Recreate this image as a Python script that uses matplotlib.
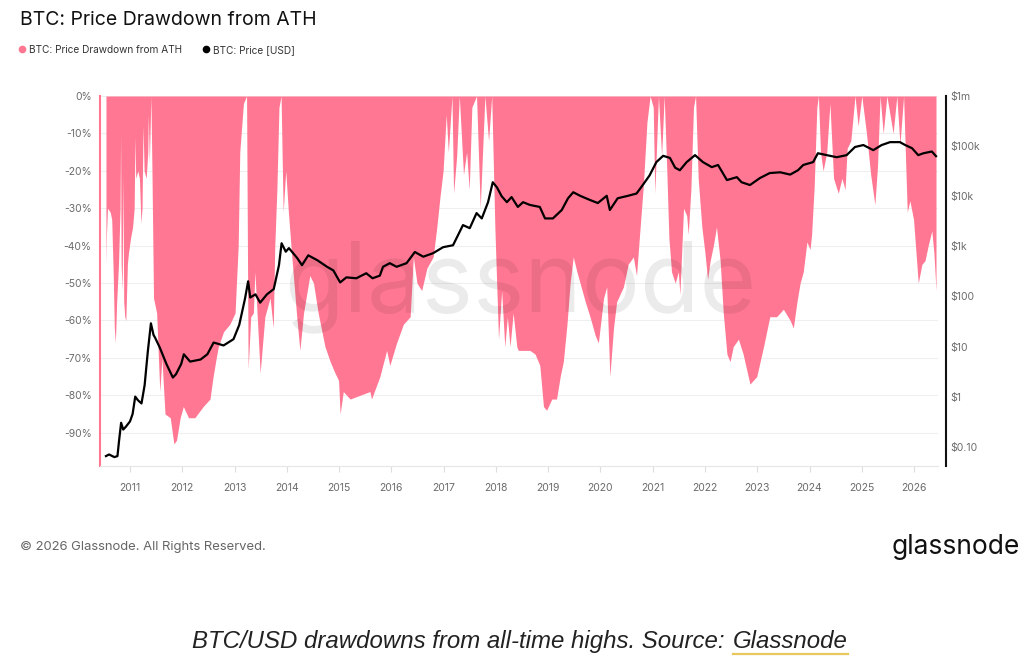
import matplotlib.pyplot as plt
from matplotlib.lines import Line2D
from matplotlib.ticker import FixedLocator, NullLocator

plt.rcParams['font.family'] = ['Inter', 'DejaVu Sans']

PINK = '#ff7792'
TICK_GREY = '#6b6b6b'

# drawdown from ATH (%) (decimal year, value)
dd_year = [
    2010.54, 2010.55, 2010.57, 2010.62, 2010.65, 2010.68, 2010.70, 2010.72, 2010.745, 2010.78,
    2010.81, 2010.82, 2010.83, 2010.85, 2010.865, 2010.88, 2010.90, 2010.92, 2010.95, 2010.97,
    2011.01, 2011.05, 2011.08, 2011.095, 2011.11, 2011.15, 2011.18, 2011.21, 2011.23, 2011.25,
    2011.27, 2011.31, 2011.34, 2011.35, 2011.37, 2011.40, 2011.42, 2011.45, 2011.51, 2011.57,
    2011.61, 2011.67, 2011.77, 2011.84, 2011.89, 2011.96, 2012.02, 2012.12, 2012.24, 2012.40,
    2012.53, 2012.59, 2012.65, 2012.69, 2012.79, 2012.91, 2013.01, 2013.07, 2013.10, 2013.17,
    2013.23, 2013.26, 2013.31, 2013.36, 2013.39, 2013.49, 2013.58, 2013.68, 2013.74, 2013.77,
    2013.81, 2013.85, 2013.89, 2013.93, 2013.98, 2014.03, 2014.09, 2014.19, 2014.25, 2014.32,
    2014.44, 2014.51, 2014.60, 2014.73, 2014.83, 2014.92, 2014.99, 2015.02, 2015.08, 2015.21,
    2015.40, 2015.59, 2015.62, 2015.78, 2015.91, 2015.97, 2016.10, 2016.23, 2016.36, 2016.42,
    2016.49, 2016.58, 2016.68, 2016.80, 2016.87, 2016.93, 2016.99, 2017.05, 2017.09, 2017.16,
    2017.19, 2017.25, 2017.30, 2017.38, 2017.44, 2017.49, 2017.54, 2017.63, 2017.70, 2017.79,
    2017.86, 2017.92, 2017.98, 2018.05, 2018.11, 2018.17, 2018.22, 2018.27, 2018.33, 2018.40,
    2018.43, 2018.52, 2018.65, 2018.75, 2018.84, 2018.91, 2018.97, 2019.07, 2019.16, 2019.23,
    2019.29, 2019.36, 2019.42, 2019.48, 2019.55, 2019.61, 2019.71, 2019.80, 2019.90, 2019.96,
    2020.06, 2020.12, 2020.18, 2020.25, 2020.31, 2020.44, 2020.53, 2020.63, 2020.69, 2020.76,
    2020.82, 2020.89, 2020.95, 2021.01, 2021.04, 2021.11, 2021.14, 2021.17, 2021.22, 2021.27,
    2021.31, 2021.36, 2021.43, 2021.49, 2021.52, 2021.59, 2021.65, 2021.68, 2021.73, 2021.78,
    2021.82, 2021.87, 2021.94, 2022.00, 2022.05, 2022.10, 2022.16, 2022.22, 2022.29, 2022.35,
    2022.42, 2022.48, 2022.54, 2022.64, 2022.73, 2022.86, 2022.99, 2023.12, 2023.24, 2023.37,
    2023.50, 2023.63, 2023.69, 2023.76, 2023.82, 2023.88, 2023.95, 2024.01, 2024.04, 2024.09,
    2024.14, 2024.17, 2024.21, 2024.26, 2024.33, 2024.39, 2024.46, 2024.55, 2024.62, 2024.68,
    2024.72, 2024.79, 2024.87, 2024.93, 2025.00, 2025.09, 2025.17, 2025.25, 2025.30, 2025.35,
    2025.41, 2025.48, 2025.60, 2025.67, 2025.73, 2025.80, 2025.84, 2025.87, 2025.92, 2025.99,
    2026.08, 2026.15, 2026.21, 2026.27, 2026.34, 2026.38, 2026.42,
]
dd_pct = [
    -45, -37, -30, -31, -33, -48, -62, -66, -55, -45,
    -30, -10, -45, -52, -21, -55, -59, -60, -45, -42,
    -38, -35, -30, -11, -22, -20, -22, -34, -30, -8,
    -20, -22, -15, -5, -18, 0, -20, -54, -58, -79,
    -70, -85, -86, -93, -92, -86, -83, -86, -86, -83,
    -81, -75, -70, -67, -63, -61, -58, -40, -15, -2,
    0, -73, -59, -58, -47, -74, -59, -54, -62, -40,
    -25, -3, 0, -31, -20, -31, -42, -59, -68, -58,
    -48, -50, -58, -67, -71, -74, -76, -85, -79, -81,
    -80, -79, -81, -75, -68, -72, -66, -61, -59, -43,
    -50, -52, -46, -43, -35, -27, -20, -5, -15, 0,
    -26, -16, 0, -21, -15, -25, -3, 0, -30, 0,
    -12, 0, -35, -65, -52, -67, -59, -67, -58, -67,
    -68, -68, -68, -69, -72, -83, -84, -81, -81, -75,
    -71, -61, -50, -43, -47, -50, -55, -59, -64, -66,
    -54, -51, -75, -62, -55, -51, -45, -43, -48, -35,
    -24, -7, 0, -3, -26, 0, -8, -16, 0, -20,
    -38, -47, -50, -47, -53, -30, -32, -37, -25, -3,
    0, -22, -35, -42, -49, -44, -40, -35, -44, -58,
    -69, -71, -67, -65, -69, -77, -75, -67, -59, -59,
    -57, -60, -62, -55, -50, -47, -39, -41, -37, -24,
    -3, 0, -15, -20, -15, -2, -22, -26, -22, -25,
    -14, -12, 0, -8, 0, -10, -21, -29, -19, 0,
    -10, 0, -10, 0, -13, 0, -18, -31, -28, -33,
    -50, -45, -44, -40, -36, -42, -52,
]

# BTC price (USD)
px_year = [
    2010.54, 2010.60, 2010.70, 2010.76, 2010.79, 2010.83, 2010.87, 2010.92, 2011.00, 2011.05,
    2011.10, 2011.15, 2011.22, 2011.28, 2011.34, 2011.40, 2011.45, 2011.48, 2011.57, 2011.70,
    2011.82, 2011.88, 2011.98, 2012.03, 2012.15, 2012.35, 2012.48, 2012.60, 2012.79, 2012.98,
    2013.09, 2013.20, 2013.26, 2013.30, 2013.40, 2013.49, 2013.62, 2013.75, 2013.85, 2013.90,
    2013.98, 2014.04, 2014.20, 2014.29, 2014.41, 2014.58, 2014.77, 2014.89, 2015.02, 2015.14,
    2015.33, 2015.52, 2015.64, 2015.78, 2015.84, 2015.97, 2016.10, 2016.29, 2016.45, 2016.61,
    2016.80, 2016.99, 2017.18, 2017.37, 2017.50, 2017.63, 2017.73, 2017.85, 2017.94, 2018.02,
    2018.11, 2018.21, 2018.30, 2018.42, 2018.52, 2018.65, 2018.84, 2018.94, 2019.09, 2019.26,
    2019.38, 2019.48, 2019.61, 2019.80, 2019.95, 2020.12, 2020.18, 2020.33, 2020.53, 2020.69,
    2020.81, 2020.94, 2021.07, 2021.20, 2021.33, 2021.43, 2021.52, 2021.65, 2021.81, 2021.96,
    2022.13, 2022.25, 2022.42, 2022.61, 2022.70, 2022.86, 2023.05, 2023.24, 2023.44, 2023.63,
    2023.78, 2023.88, 2024.07, 2024.16, 2024.33, 2024.52, 2024.71, 2024.87, 2025.03, 2025.22,
    2025.38, 2025.54, 2025.73, 2025.83, 2025.96, 2026.08, 2026.18, 2026.34, 2026.42,
]
px_usd = [
    0.065, 0.07, 0.062, 0.065, 0.13, 0.30, 0.22, 0.25, 0.32, 0.45,
    1.0, 0.85, 0.73, 1.7, 7.8, 29, 17, 15, 9.5, 4.4,
    2.4, 2.8, 4.5, 7, 5, 5.5, 7, 12, 10.5, 14,
    27, 90, 200, 95, 110, 75, 110, 140, 420, 1150,
    780, 920, 580, 420, 660, 530, 390, 330, 190, 240,
    230, 290, 230, 260, 390, 460, 390, 460, 770, 620,
    730, 960, 1050, 2650, 2300, 4600, 3600, 7600, 19000, 15000,
    10000, 7600, 9600, 6100, 7600, 6700, 6100, 3600, 3600, 5300,
    9100, 12000, 10200, 8400, 7300, 10200, 5300, 9100, 10200, 11300,
    16700, 26000, 48000, 64000, 58000, 37000, 33000, 48000, 66000, 48000,
    38000, 42000, 21000, 24000, 19000, 16700, 23000, 29000, 30000, 27000,
    33000, 42000, 48000, 72000, 66000, 60000, 66000, 96000, 105000, 83000,
    105000, 120000, 120000, 105000, 91000, 66000, 72000, 78000, 63000,
]

year_ticks = list(range(2011, 2027))
pct_ticks = [0, -10, -20, -30, -40, -50, -60, -70, -80, -90]
usd_ticks = [0.1, 1, 10, 100, 1e3, 1e4, 1e5, 1e6]
usd_labels = ['\\$0.10', '\\$1', '\\$10', '\\$100', '\\$1k', '\\$10k', '\\$100k', '\\$1m']

W, H = 1036, 665
fig = plt.figure(figsize=(W / 100, H / 100), dpi=100)
fig.patch.set_facecolor('white')
ax = fig.add_axes([100 / W, 1 - 466 / H, 838 / W, 370 / H])

ax.set_axisbelow(True)
ax.fill_between(dd_year, dd_pct, 0, color=PINK, lw=0, zorder=2)
ax.set_xlim(2010.426, 2026.458)
ax.set_ylim(-98.9, 0)
ax.set_yticks(pct_ticks)
ax.set_yticklabels([f'{v}%' for v in pct_ticks])
ax.grid(axis='y', color='#efefef', lw=0.8)
ax.set_xticks(year_ticks)
ax.tick_params(axis='x', length=4, color='#dddddd', labelsize=7.5, labelcolor=TICK_GREY, pad=8)
ax.tick_params(axis='y', length=0, labelsize=7.5, labelcolor=TICK_GREY, pad=6)
for s in ['top', 'right']:
    ax.spines[s].set_visible(False)
ax.spines['left'].set_color(PINK)
ax.spines['left'].set_linewidth(1.5)
ax.spines['bottom'].set_color('#e6e6e6')
ax.spines['bottom'].set_linewidth(0.8)

ax.text(0.501, 0.484, 'glassnode', transform=ax.transAxes, ha='center', va='center',
        fontsize=70, color='black', alpha=0.08, zorder=3)

ax2 = ax.twinx()
ax2.plot(px_year, px_usd, color='black', lw=1.6, zorder=5)
ax2.set_yscale('log')
ax2.set_ylim(0.0412, 1e6)
ax2.yaxis.set_major_locator(FixedLocator(usd_ticks))
ax2.yaxis.set_minor_locator(NullLocator())
ax2.set_yticklabels(usd_labels)
ax2.tick_params(axis='y', length=0, labelsize=7.5, labelcolor=TICK_GREY, pad=3)
for s in ['top', 'left', 'bottom']:
    ax2.spines[s].set_visible(False)
ax2.spines['right'].set_position(('outward', 6))
ax2.spines['right'].set_linewidth(1.5)
ax2.spines['right'].set_color('#111111')

fig.text(20 / W, 1 - 20 / H, 'BTC: Price Drawdown from ATH', fontsize=14, va='center', color='#111111')
handles = [Line2D([], [], ls='none', marker='o', color=PINK, ms=4.5),
           Line2D([], [], ls='none', marker='o', color='black', ms=4.5)]
fig.legend(handles, ['BTC: Price Drawdown from ATH', 'BTC: Price [USD]'], loc='center left',
           bbox_to_anchor=(16 / W, 1 - 50 / H), ncol=2, frameon=False, fontsize=7.25,
           handletextpad=0.1, columnspacing=1.8, handlelength=1.2, borderaxespad=0, borderpad=0,
           labelcolor='#333333')

fig.text(20 / W, 1 - 547 / H, '© 2026 Glassnode. All Rights Reserved.', fontsize=9.4,
         color='#666666', va='center')
fig.text(1020 / W, 1 - 547 / H, 'glassnode', fontsize=19, color='#111111', ha='right', va='center')

# caption with underlined source link
cap_font = dict(family=['Liberation Sans Narrow', 'Liberation Sans', 'DejaVu Sans'],
                style='italic', fontsize=17.3, color='#222222', va='baseline')
t1 = fig.text(0, 1 - 648 / H, 'BTC/USD drawdowns from all-time highs. Source:', **cap_font)
t2 = fig.text(0, 1 - 648 / H, 'Glassnode', **cap_font)
r = fig.canvas.get_renderer()
w1 = t1.get_window_extent(r).width
w2 = t2.get_window_extent(r).width
gap = 8
start = 520 - (w1 + gap + w2) / 2
t1.set_x(start / W)
t2.set_x((start + w1 + gap) / W)
b2 = t2.get_window_extent(r)
fig.add_artist(Line2D([b2.x0 / W, b2.x1 / W], [(b2.y0 - 1) / H] * 2, color='#e8c75c', lw=1.6,
                      transform=fig.transFigure))

fig.savefig('out.png', dpi=100, facecolor='white')
